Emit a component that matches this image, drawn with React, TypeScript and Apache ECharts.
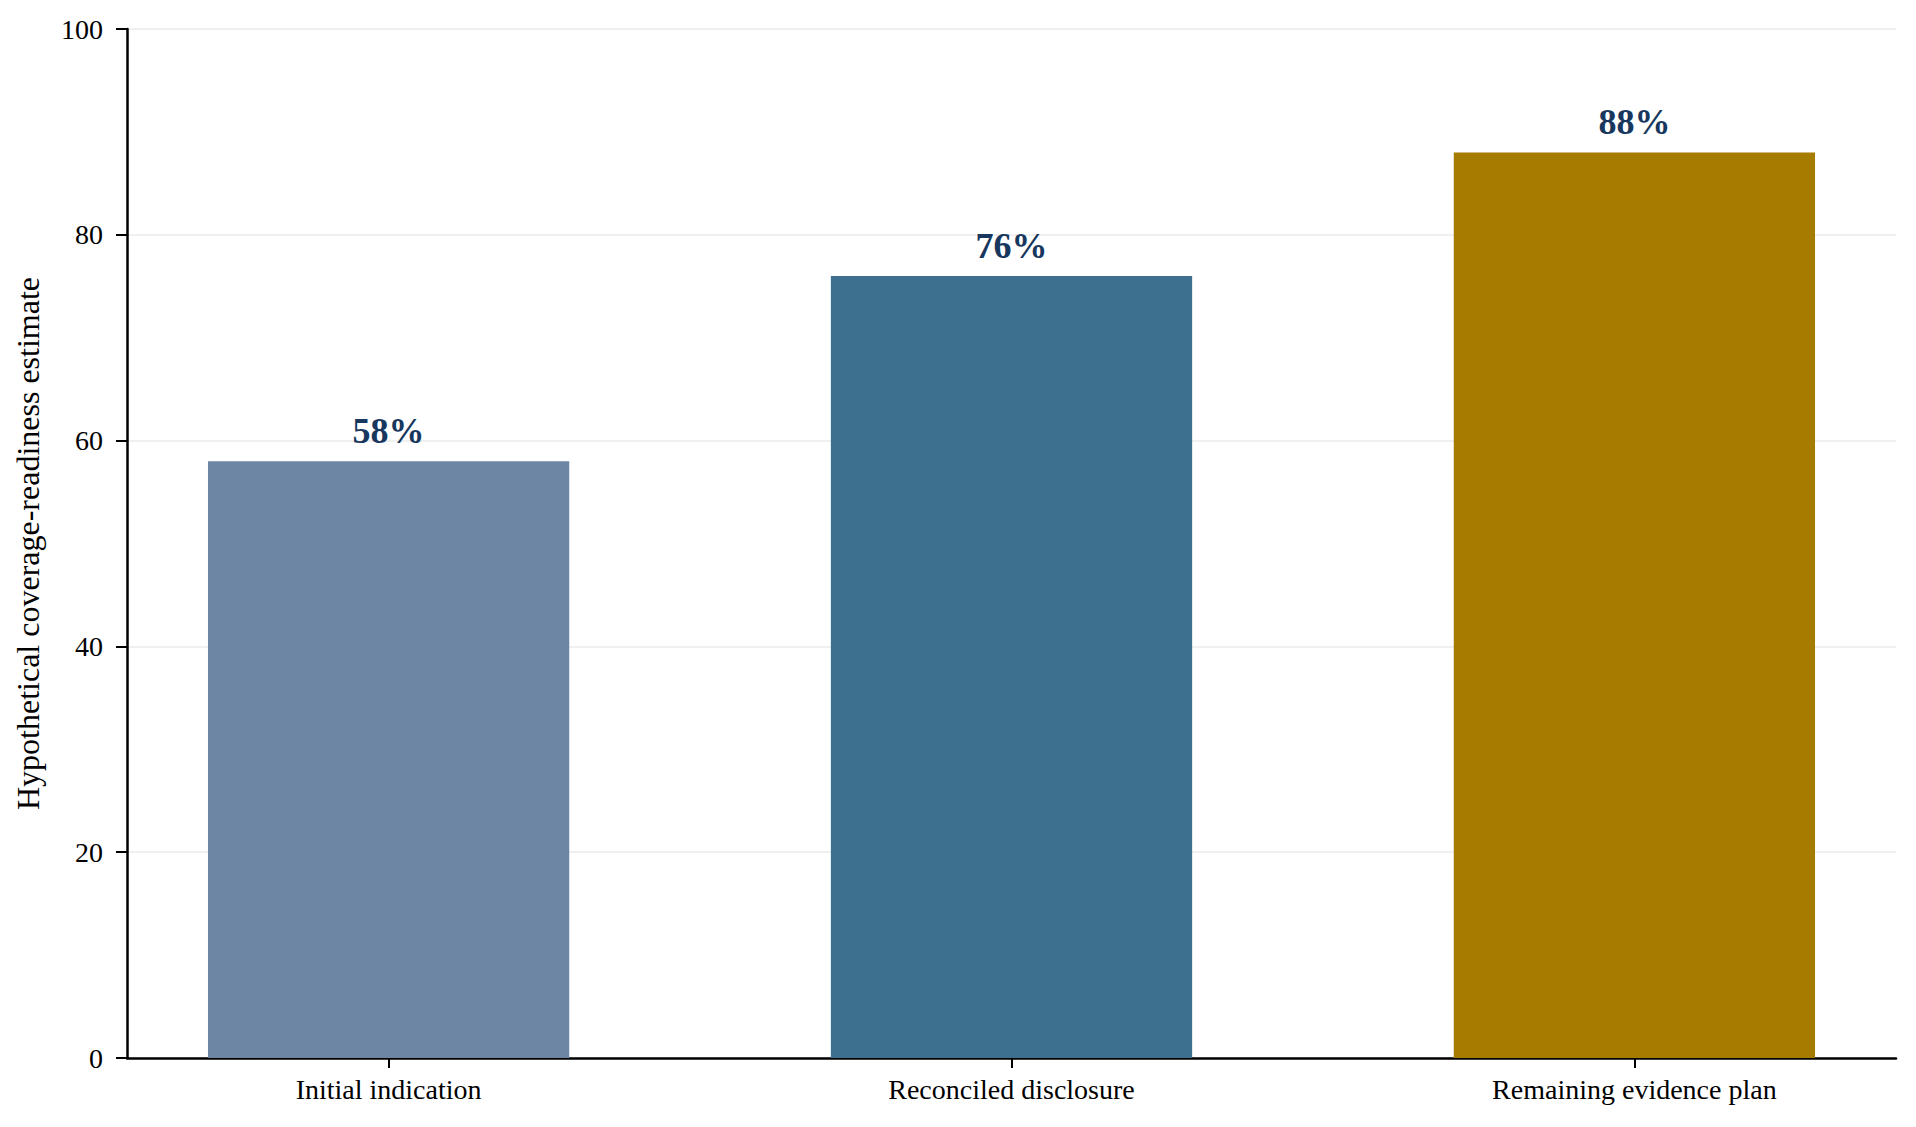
import React, { useEffect, useRef } from "react";
import * as echarts from "echarts";

const categories = ["Initial indication", "Reconciled disclosure", "Remaining evidence plan"];
const values = [58, 76, 88];
const barColors = ["#6c86a3", "#3d6f8e", "#a67c00"];
const yTicks = [0, 20, 40, 60, 80, 100];

const FONT = "'Times New Roman', 'Liberation Serif', serif";
const GRID = { left: 127, right: 20, top: 29, bottom: 69 };
const X_MIN = -0.42;
const X_MAX = 2.42;
const BAR_WIDTH = 0.58; // in category units

const App: React.FC = () => {
    const chartRef = useRef<HTMLDivElement>(null);

    useEffect(() => {
        if (!chartRef.current) return;
        const chart = echarts.init(chartRef.current, undefined, { renderer: "svg" });
        const plotW = chart.getWidth() - GRID.left - GRID.right;
        const barPx = (plotW * BAR_WIDTH) / (X_MAX - X_MIN);

        chart.setOption({
            animation: false,
            backgroundColor: "#ffffff",
            grid: { ...GRID, containLabel: false },
            xAxis: {
                type: "value",
                min: X_MIN,
                max: X_MAX,
                axisLine: { show: true, onZero: true, lineStyle: { color: "#000", width: 2.5 } },
                axisTick: {
                    show: true,
                    customValues: categories.map((_, i) => i),
                    length: 10,
                    lineStyle: { color: "#000", width: 2 },
                },
                axisLabel: {
                    customValues: categories.map((_, i) => i),
                    formatter: (v: number) => categories[Math.round(v)] ?? "",
                    fontFamily: FONT,
                    fontSize: 28,
                    color: "#000",
                    margin: 17,
                },
                splitLine: { show: false },
            },
            yAxis: {
                type: "value",
                min: 0,
                max: 100,
                interval: 20,
                name: "Hypothetical coverage-readiness estimate",
                nameLocation: "middle",
                nameRotate: 90,
                nameGap: 83,
                nameTextStyle: { fontFamily: FONT, fontSize: 32, color: "#000" },
                axisLine: { show: true, onZero: false, lineStyle: { color: "#000", width: 2.5 } },
                axisTick: { show: true, length: 11, lineStyle: { color: "#000", width: 2 } },
                axisLabel: {
                    fontFamily: FONT,
                    fontSize: 28,
                    color: "#000",
                    margin: 24,
                    formatter: (v: number) => (yTicks.includes(v) ? String(v) : ""),
                },
                splitLine: { show: true, lineStyle: { color: "#ebebeb", width: 1.5 } },
            },
            series: [
                {
                    type: "bar",
                    barWidth: barPx,
                    data: values.map((v, i) => ({
                        value: [i, v],
                        itemStyle: { color: barColors[i] },
                    })),
                    label: {
                        show: true,
                        position: "top",
                        distance: 12,
                        formatter: (p: any) => `${p.value[1]}%`,
                        fontFamily: FONT,
                        fontWeight: 700,
                        fontSize: 36,
                        color: "#17375e",
                    },
                },
            ],
        });

        const handleResize = () => chart.resize();
        window.addEventListener("resize", handleResize);
        return () => {
            window.removeEventListener("resize", handleResize);
            chart.dispose();
        };
    }, []);

    return (
        <div style={{ position: "absolute", left: 0, top: 0, width: "100vw", height: "100vh" }}>
            <div ref={chartRef} style={{ width: "100%", height: "100%" }} />
        </div>
    );
};

export default App;
